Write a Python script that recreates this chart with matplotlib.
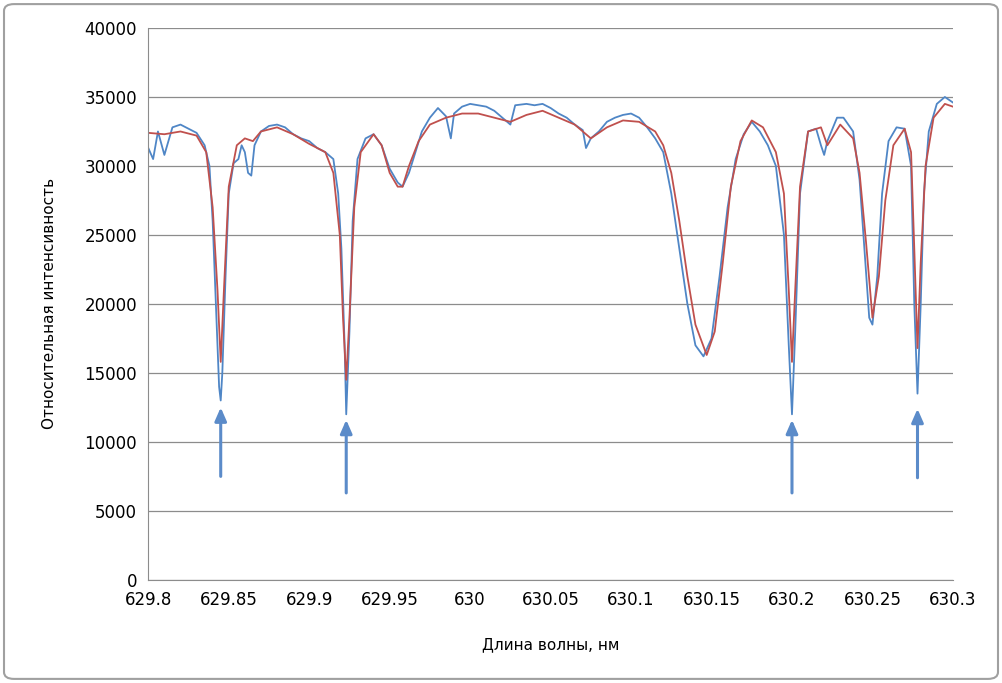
import matplotlib.pyplot as plt
from matplotlib.patches import FancyBboxPatch

# blue series (measured spectrum)
blue_wl = [629.800, 629.803, 629.806, 629.810, 629.815, 629.820, 629.825, 629.830, 629.835, 629.838,
           629.840, 629.842, 629.844, 629.845, 629.846, 629.848, 629.850, 629.853, 629.856, 629.858,
           629.860, 629.862, 629.864, 629.866, 629.870, 629.875, 629.880, 629.885, 629.890, 629.895,
           629.900, 629.905, 629.910, 629.915, 629.918, 629.920, 629.922, 629.923, 629.925, 629.927,
           629.930, 629.935, 629.940, 629.945, 629.950, 629.955, 629.958, 629.962, 629.966, 629.970,
           629.975, 629.980, 629.985, 629.988, 629.990, 629.995, 630.000, 630.005, 630.010, 630.015,
           630.020, 630.025, 630.028, 630.035, 630.040, 630.045, 630.050, 630.055, 630.060, 630.065,
           630.070, 630.072, 630.075, 630.080, 630.085, 630.090, 630.095, 630.100, 630.105, 630.110,
           630.115, 630.120, 630.125, 630.130, 630.135, 630.140, 630.145, 630.150, 630.155, 630.160,
           630.165, 630.170, 630.175, 630.180, 630.185, 630.190, 630.195, 630.198, 630.200, 630.202,
           630.205, 630.210, 630.215, 630.218, 630.220, 630.222, 630.228, 630.232, 630.238, 630.242,
           630.245, 630.248, 630.250, 630.253, 630.256, 630.260, 630.265, 630.270, 630.274, 630.276,
           630.278, 630.280, 630.282, 630.285, 630.290, 630.295, 630.300]
blue_val = [31300, 30500, 32500, 30800, 32800, 33000, 32700, 32400, 31500, 30000,
            26000, 20000, 14000, 13000, 15000, 22000, 28000, 30200, 30500, 31500,
            31000, 29500, 29300, 31500, 32500, 32900, 33000, 32800, 32300, 32000,
            31800, 31300, 31000, 30500, 28000, 24000, 17000, 12000, 18000, 26000,
            30500, 32000, 32300, 31500, 29800, 28800, 28500, 29500, 31000, 32500,
            33500, 34200, 33600, 32000, 33800, 34300, 34500, 34400, 34300, 34000,
            33500, 33000, 34400, 34500, 34400, 34500, 34200, 33800, 33500, 33000,
            32600, 31300, 32000, 32500, 33200, 33500, 33700, 33800, 33500, 32800,
            32000, 31000, 28000, 24000, 20000, 17000, 16200, 17500, 22000, 27000,
            30500, 32300, 33200, 32500, 31500, 30000, 25000, 17000, 12000, 18000,
            28000, 32500, 32700, 31500, 30800, 31800, 33500, 33500, 32500, 29000,
            24000, 19000, 18500, 22000, 28000, 31800, 32800, 32700, 30000, 20000,
            13500, 20000, 28000, 32500, 34500, 35000, 34600]

# red series (model spectrum)
red_wl = [629.800, 629.810, 629.820, 629.830, 629.836, 629.840, 629.843, 629.845, 629.847, 629.850,
          629.855, 629.860, 629.865, 629.870, 629.880, 629.890, 629.900, 629.910, 629.915, 629.919,
          629.921, 629.923, 629.925, 629.928, 629.932, 629.940, 629.945, 629.950, 629.955, 629.958,
          629.962, 629.968, 629.975, 629.985, 629.995, 630.005, 630.015, 630.025, 630.035, 630.045,
          630.055, 630.065, 630.075, 630.085, 630.095, 630.105, 630.115, 630.120, 630.125, 630.130,
          630.135, 630.140, 630.147, 630.152, 630.157, 630.162, 630.168, 630.175, 630.182, 630.190,
          630.195, 630.198, 630.200, 630.202, 630.205, 630.210, 630.218, 630.222, 630.230, 630.238,
          630.242, 630.246, 630.250, 630.254, 630.258, 630.263, 630.270, 630.274, 630.276, 630.278,
          630.280, 630.283, 630.288, 630.295, 630.300]
red_val = [32400, 32300, 32500, 32200, 31000, 27000, 21000, 15800, 21000, 28500,
           31500, 32000, 31800, 32500, 32800, 32300, 31600, 31000, 29500, 25000,
           19000, 14500, 19000, 27000, 31000, 32300, 31500, 29500, 28500, 28500,
           30000, 31800, 33000, 33500, 33800, 33800, 33500, 33200, 33700, 34000,
           33500, 33000, 32000, 32800, 33300, 33200, 32500, 31500, 29500, 26000,
           22000, 18500, 16300, 18000, 23000, 28500, 31800, 33300, 32800, 31000,
           28000, 21000, 15800, 21000, 28500, 32500, 32800, 31500, 33000, 32000,
           29500, 24500, 19000, 22000, 27500, 31500, 32700, 31000, 24000, 16800,
           23000, 30000, 33500, 34500, 34300]

arrow_wl = [629.845, 629.923, 630.200, 630.278]
arrow_top = [12700, 11800, 11800, 12600]
arrow_bottom = [7300, 6100, 6100, 7200]

fig = plt.figure(figsize=(10.02, 6.83), dpi=100)
fig.patches.append(FancyBboxPatch((0.004, 0.006), 0.992, 0.988, boxstyle="round,pad=0,rounding_size=0.01",
                                  transform=fig.transFigure, fill=False, edgecolor="#a0a0a0", linewidth=1.5))
ax = fig.add_axes([0.148, 0.151, 0.803, 0.808])

ax.plot(blue_wl, blue_val, color="#4f86c6", linewidth=1.3)
ax.plot(red_wl, red_val, color="#c0504d", linewidth=1.3)

for x, top, bot in zip(arrow_wl, arrow_top, arrow_bottom):
    ax.annotate("", xy=(x, top), xytext=(x, bot),
                arrowprops=dict(arrowstyle="-|>,head_length=0.8,head_width=0.35", color="#5b8bc9", lw=2.2))

ax.set_xlim(629.8, 630.3)
ax.set_ylim(0, 40000)
ax.set_xticks([629.8, 629.85, 629.9, 629.95, 630.0, 630.05, 630.1, 630.15, 630.2, 630.25, 630.3])
ax.set_xticklabels(["629.8", "629.85", "629.9", "629.95", "630", "630.05", "630.1", "630.15",
                    "630.2", "630.25", "630.3"])
ax.set_yticks(range(0, 40001, 5000))
ax.grid(axis="y", color="#8c8c8c", linewidth=0.9)
ax.set_axisbelow(True)
for s in ["top", "right"]:
    ax.spines[s].set_visible(False)
ax.spines["left"].set_color("#8c8c8c")
ax.spines["bottom"].set_color("#8c8c8c")
ax.tick_params(labelsize=12, length=0, pad=8)
ax.set_xlabel("Длина волны, нм", fontsize=11, labelpad=20)
ax.set_ylabel("Относительная интенсивность", fontsize=11, labelpad=20)

fig.savefig("out.png", dpi=100)
